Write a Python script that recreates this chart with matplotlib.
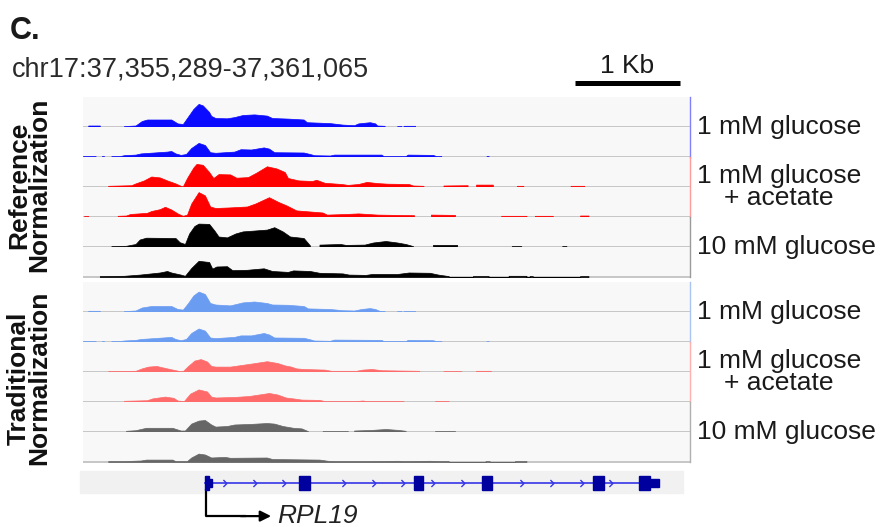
import numpy as np
import matplotlib.pyplot as plt
from matplotlib.path import Path
from matplotlib.patches import Rectangle

plt.rcParams['font.family'] = ['Liberation Sans', 'DejaVu Sans']

W, H = 881, 527
region = 'chr17:37,355,289-37,361,065'
region_kb = 5.776

# coverage profiles: (kb from region start, fraction of track height)
ref_1mm_a = [(0.05,0),(0.05,0.05),(0.16,0.05),(0.16,0),(0.39,0),(0.39,0.03),(0.50,0.05),(0.56,0.2),(0.61,0.25),
             (0.84,0.25),(0.90,0.12),(0.95,0.1),(1.0,0.35),(1.05,0.6),(1.10,0.77),(1.14,0.72),(1.20,0.5),(1.22,0.37),
             (1.26,0.3),(1.37,0.29),(1.44,0.33),(1.52,0.4),(1.63,0.42),(1.75,0.38),(1.80,0.3),(1.95,0.28),(2.10,0.25),
             (2.13,0.16),(2.35,0.13),(2.47,0.08),(2.58,0.06),(2.62,0.12),(2.73,0.16),(2.78,0.12),(2.80,0.05),(2.87,0.04),
             (2.87,0),(2.99,0),(2.99,0.03),(3.03,0.03),(3.03,0),(3.05,0),(3.05,0.04),(3.16,0.04),(3.16,0)]
ref_1mm_b = [(0.0,0),(0.0,0.03),(0.12,0.03),(0.12,0),(0.18,0),(0.18,0.03),(0.20,0.03),(0.20,0),(0.27,0),(0.27,0.03),
             (0.35,0.03),(0.39,0.06),(0.50,0.08),(0.55,0.12),(0.80,0.18),(0.84,0.2),(0.88,0.12),(0.93,0.07),(0.98,0.1),
             (1.03,0.3),(1.10,0.47),(1.16,0.4),(1.21,0.16),(1.26,0.14),(1.44,0.18),(1.50,0.26),(1.60,0.25),(1.72,0.32),
             (1.77,0.28),(1.82,0.16),(2.10,0.15),(2.16,0.1),(2.20,0.06),(2.35,0.05),(2.39,0.08),(2.84,0.08),(2.86,0.03),
             (3.07,0.03),(3.09,0.08),(3.33,0.07),(3.36,0.03),(3.41,0.03),(3.41,0),(3.84,0),(3.84,0.03),(3.86,0.03),(3.86,0)]
ref_ace_a = [(0.24,0),(0.24,0.04),(0.46,0.06),(0.50,0.12),(0.58,0.22),(0.65,0.35),(0.73,0.32),(0.80,0.22),(0.88,0.12),
             (0.93,0.04),(0.95,0.02),(0.99,0.3),(1.05,0.65),(1.08,0.77),(1.14,0.74),(1.20,0.5),(1.24,0.3),(1.29,0.43),
             (1.40,0.42),(1.46,0.31),(1.57,0.33),(1.65,0.48),(1.75,0.69),(1.84,0.62),(1.92,0.5),(1.95,0.3),(2.05,0.22),
             (2.18,0.2),(2.22,0.24),(2.30,0.14),(2.46,0.1),(2.52,0.07),(2.62,0.1),(2.70,0.17),(2.80,0.13),(2.90,0.11),
             (3.10,0.1),(3.14,0.05),(3.24,0.04),(3.24,0),(3.43,0),(3.43,0.05),(3.66,0.06),(3.66,0),(3.74,0),(3.74,0.08),
             (3.90,0.08),(3.90,0),(4.13,0),(4.13,0.04),(4.19,0.04),(4.19,0),(4.64,0),(4.64,0.04),(4.77,0.04),(4.77,0)]
ref_ace_b = [(0.01,0),(0.01,0.03),(0.05,0.03),(0.05,0),(0.33,0),(0.33,0.04),(0.41,0.05),(0.45,0.1),(0.61,0.14),
             (0.65,0.2),(0.73,0.26),(0.78,0.34),(0.84,0.25),(0.90,0.12),(0.95,0.04),(0.99,0.08),(1.03,0.45),(1.10,0.83),
             (1.16,0.72),(1.21,0.35),(1.26,0.3),(1.40,0.32),(1.56,0.35),(1.64,0.45),(1.77,0.66),(1.86,0.5),(1.94,0.38),
             (2.03,0.22),(2.28,0.15),(2.32,0.08),(2.50,0.1),(2.62,0.12),(2.80,0.08),(3.15,0.06),(3.15,0),(3.31,0),
             (3.31,0.08),(3.54,0.07),(3.54,0),(3.98,0),(3.98,0.04),(4.22,0.04),(4.22,0),(4.30,0),(4.30,0.04),(4.47,0.04),
             (4.47,0),(4.73,0),(4.73,0.05),(4.81,0.05),(4.81,0)]
ref_10mm_a = [(0.27,0),(0.27,0.03),(0.41,0.04),(0.50,0.1),(0.54,0.25),(0.60,0.31),(0.88,0.3),(0.92,0.16),(0.97,0.1),
              (1.01,0.45),(1.06,0.7),(1.10,0.78),(1.20,0.77),(1.25,0.55),(1.29,0.35),(1.37,0.32),(1.45,0.45),(1.52,0.52),
              (1.75,0.58),(1.82,0.66),(1.90,0.52),(1.97,0.35),(2.10,0.3),(2.16,0.05),(2.16,0),(2.25,0),(2.25,0.08),
              (2.45,0.1),(2.50,0.07),(2.68,0.08),(2.76,0.15),(2.88,0.2),(2.99,0.15),(3.07,0.1),(3.14,0.03),(3.14,0),
              (3.33,0),(3.33,0.07),(3.56,0.07),(3.56,0),(4.08,0),(4.08,0.03),(4.17,0.03),(4.17,0),(4.56,0),(4.56,0.03),
              (4.60,0.03),(4.60,0)]
ref_10mm_b = [(0.16,0),(0.16,0.03),(0.39,0.04),(0.54,0.08),(0.73,0.15),(0.80,0.2),(0.84,0.15),(0.93,0.08),(0.97,0.04),
              (1.03,0.3),(1.10,0.54),(1.20,0.5),(1.23,0.28),(1.27,0.35),(1.37,0.36),(1.42,0.23),(1.56,0.24),(1.72,0.29),
              (1.80,0.2),(1.95,0.17),(2.00,0.22),(2.16,0.2),(2.25,0.14),(2.47,0.12),(2.53,0.08),(2.69,0.07),(2.75,0.1),
              (2.99,0.1),(3.10,0.15),(3.30,0.14),(3.38,0.08),(3.48,0.03),(3.48,0),(3.71,0),(3.71,0.03),(3.86,0.03),
              (3.86,0),(4.05,0),(4.05,0.04),(4.22,0.04),(4.22,0),(4.25,0),(4.25,0.03),(4.28,0.03),(4.28,0),(4.73,0),
              (4.73,0.03),(4.81,0.03),(4.81,0)]
trad_1mm_a = [(0.05,0),(0.05,0.04),(0.16,0.04),(0.16,0),(0.39,0),(0.39,0.03),(0.50,0.05),(0.56,0.15),(0.65,0.2),
              (0.84,0.2),(0.90,0.1),(0.95,0.08),(1.00,0.3),(1.05,0.55),(1.10,0.68),(1.16,0.6),(1.21,0.3),(1.26,0.25),
              (1.40,0.22),(1.52,0.32),(1.63,0.35),(1.75,0.3),(1.80,0.25),(1.95,0.24),(2.10,0.2),(2.14,0.12),(2.35,0.1),
              (2.47,0.06),(2.58,0.05),(2.65,0.1),(2.73,0.13),(2.78,0.1),(2.82,0.04),(2.87,0.03),(2.87,0),(2.99,0),
              (2.99,0.03),(3.03,0.03),(3.03,0),(3.05,0),(3.05,0.03),(3.16,0.03),(3.16,0)]
trad_1mm_b = [(0.0,0),(0.0,0.03),(0.12,0.03),(0.12,0),(0.18,0),(0.18,0.03),(0.20,0.03),(0.20,0),(0.27,0),(0.27,0.03),
              (0.35,0.03),(0.39,0.05),(0.50,0.07),(0.55,0.1),(0.80,0.16),(0.84,0.17),(0.88,0.1),(0.93,0.06),(0.98,0.1),
              (1.03,0.3),(1.10,0.45),(1.16,0.38),(1.21,0.15),(1.26,0.13),(1.44,0.17),(1.50,0.22),(1.60,0.22),(1.72,0.3),
              (1.77,0.25),(1.82,0.15),(2.10,0.14),(2.16,0.09),(2.20,0.05),(2.35,0.04),(2.39,0.08),(2.84,0.07),(2.86,0.03),
              (3.07,0.03),(3.09,0.07),(3.33,0.06),(3.36,0.03),(3.41,0.03),(3.41,0),(3.84,0),(3.84,0.03),(3.86,0.03),(3.86,0)]
trad_ace_a = [(0.24,0),(0.24,0.03),(0.50,0.04),(0.56,0.12),(0.62,0.18),(0.70,0.2),(0.80,0.12),(0.88,0.06),(0.92,0.03),
              (0.95,0.03),(1.00,0.2),(1.06,0.38),(1.12,0.43),(1.18,0.35),(1.22,0.2),(1.26,0.18),(1.40,0.18),(1.52,0.24),
              (1.62,0.29),(1.75,0.36),(1.85,0.3),(1.92,0.22),(1.98,0.18),(2.03,0.12),(2.10,0.1),(2.30,0.08),(2.36,0.04),
              (2.60,0.04),(2.66,0.08),(2.75,0.1),(2.84,0.06),(3.00,0.05),(3.20,0.04),(3.20,0),(3.43,0),(3.43,0.03),
              (3.60,0.03),(3.60,0),(3.74,0),(3.74,0.04),(3.88,0.04),(3.88,0)]
trad_ace_b = [(0.39,0),(0.39,0.04),(0.61,0.06),(0.66,0.12),(0.78,0.18),(0.86,0.14),(0.90,0.05),(0.96,0.03),(1.02,0.28),
              (1.10,0.42),(1.18,0.35),(1.22,0.18),(1.26,0.15),(1.45,0.17),(1.58,0.2),(1.77,0.3),(1.85,0.25),(1.93,0.15),
              (2.00,0.12),(2.08,0.08),(2.25,0.07),(2.30,0.03),(2.35,0.03),(2.60,0.03),(2.66,0.05),(2.70,0.03),(3.05,0.03),
              (3.05,0),(3.35,0),(3.35,0.03),(3.48,0.03),(3.48,0)]
trad_10mm_a = [(0.41,0),(0.41,0.04),(0.50,0.06),(0.60,0.14),(0.85,0.14),(0.93,0.05),(0.97,0.05),(1.03,0.28),(1.10,0.38),
               (1.16,0.4),(1.22,0.25),(1.26,0.18),(1.37,0.2),(1.44,0.25),(1.60,0.27),(1.75,0.3),(1.82,0.28),(1.90,0.2),
               (2.00,0.14),(2.08,0.12),(2.14,0.03),(2.14,0),(2.28,0),(2.28,0.03),(2.52,0.03),(2.52,0),(2.58,0),
               (2.58,0.05),(2.75,0.07),(2.88,0.1),(3.00,0.07),(3.07,0.04),(3.07,0),(3.35,0),(3.35,0.03),(3.54,0.03),(3.54,0)]
trad_10mm_b = [(0.24,0),(0.24,0.03),(0.39,0.03),(0.55,0.05),(0.60,0.08),(0.85,0.08),(0.88,0.03),(0.99,0.03),(1.03,0.15),
               (1.10,0.28),(1.16,0.25),(1.22,0.15),(1.35,0.17),(1.40,0.14),(1.75,0.15),(1.80,0.1),(2.25,0.08),(2.33,0.04),
               (2.40,0.03),(2.70,0.03),(3.00,0.04),(3.05,0.03),(3.30,0.04),(3.40,0.03),(3.48,0.03),(3.48,0),(3.83,0),
               (3.83,0.03),(3.87,0.03),(3.87,0),(4.11,0),(4.11,0.03),(4.22,0.03),(4.22,0)]

conditions = ['1 mM glucose', '1 mM glucose\n+ acetate', '10 mM glucose']
groups = ['Reference\nNormalization', 'Traditional\nNormalization']
group_tracks = [[ref_1mm_a, ref_1mm_b, ref_ace_a, ref_ace_b, ref_10mm_a, ref_10mm_b],
                [trad_1mm_a, trad_1mm_b, trad_ace_a, trad_ace_b, trad_10mm_a, trad_10mm_b]]
group_colors = [['#0B0BFF', '#FF0000', '#000000'], ['#6A9CF2', '#FF6B6B', '#666666']]
edge_colors = [['#8080FF', '#FF9A9A', '#9A9A9A'], ['#A9C3F5', '#FFB0B0', '#B0B0B0']]

# RPL19 gene model
gene_name = 'RPL19'
exons = [(1.16, 1.20), (2.06, 2.16), (3.145, 3.24), (3.80, 3.895), (4.855, 4.96), (5.29, 5.40)]
utrs = [(1.20, 1.23), (5.40, 5.48)]
tss_kb = 1.17

fig = plt.figure(figsize=(W / 100, H / 100), dpi=100)


def px_axes(x0, y0, x1, y1):
    return fig.add_axes([x0 / W, 1 - y1 / H, (x1 - x0) / W, (y1 - y0) / H])


X0, X1 = 83, 690
TH = 30
group_base = [127, 312]
group_label_y = [185, 378]

for g in range(2):
    for i, prof in enumerate(group_tracks[g]):
        base = group_base[g] + i * TH
        ax = px_axes(X0, base - TH, X1, base + 1)
        ax.set_facecolor('#F8F8F8')
        ax.set_xlim(0, region_kb)
        ax.set_ylim(-1 / TH, 1)
        ax.set_xticks([])
        ax.set_yticks([])
        for s in ax.spines.values():
            s.set_visible(False)
        ax.axhline(0, color='#C2C2C2', lw=1.3, zorder=1)
        xs, ys = zip(*prof)
        col = group_colors[g][i // 2]
        ax.fill_between(xs, 0, ys, color=col, lw=0.5, ec=col, zorder=3)

# gene track
gax = px_axes(X0, 471, X1, 493)
gax.set_xlim(0, region_kb)
gax.set_ylim(0, 1)
gax.axis('off')
gax.add_patch(Rectangle((-0.03, 0), 5.74, 1, color='#F1F1F1', zorder=0, clip_on=False))
gstart, gend = exons[0][0], utrs[-1][1]
gax.plot([gstart, gend], [0.45, 0.45], color='#3535E8', lw=1.2, zorder=2)
chev = np.arange(1.35, gend, 0.283)
chev = [c for c in chev if all(c < s - 0.05 or c > e + 0.05 for s, e in exons + utrs)]
chev_marker = Path([(-0.6, 1), (0.4, 0), (-0.6, -1)], [Path.MOVETO, Path.LINETO, Path.LINETO])
gax.plot(chev, [0.45] * len(chev), ls='none', marker=chev_marker, ms=5, mfc='none',
         mec='#3535E8', mew=1.0, zorder=3)
for s, e in exons:
    gax.add_patch(Rectangle((s, 0.14), e - s, 0.63, color='#00009E', zorder=4))
for s, e in utrs:
    gax.add_patch(Rectangle((s, 0.27), e - s, 0.37, color='#00009E', zorder=4))
gax.plot([tss_kb, tss_kb, 1.55], [0.2, -1.05, -1.05], color='black', lw=1.6,
         clip_on=False, solid_capstyle='butt')
gax.annotate('', xy=(1.79, -1.05), xytext=(1.5, -1.05), xycoords='data',
             arrowprops=dict(arrowstyle='-|>', color='black', lw=1.6, mutation_scale=16,
                             shrinkA=0, shrinkB=0), annotation_clip=False)
gax.text(1.85, -1.05, gene_name, style='italic', fontsize=19, va='center', ha='left',
         color='#222222', clip_on=False)

# overlay for labels and decorations
ov = fig.add_axes([0, 0, 1, 1])
ov.set_xlim(0, W)
ov.set_ylim(H, 0)
ov.axis('off')

for g in range(2):
    for k in range(3):
        top = group_base[g] + 2 * k * TH - TH
        ov.plot([X1, X1], [top, top + 2 * TH], color=edge_colors[g][k], lw=1.0)
        ov.text(697, top + TH, conditions[k], fontsize=19, ha='left', va='center',
                multialignment='center', linespacing=0.88, color='#1A1A1A')
    ov.text(29, group_label_y[g], groups[g], rotation=90, fontsize=19,
            fontweight='bold', ha='center', va='center', multialignment='center',
            linespacing=0.8, color='#111111')

ov.text(10, 31, 'C.', fontsize=22, fontweight='bold', ha='left', va='center', color='#1A1A1A')
ov.text(12, 70, region, fontsize=19.5, ha='left', va='center', color='#2A2A2A')
kb_px = (X1 - X0) / region_kb
ov.plot([680 - kb_px, 680], [83, 83], color='black', lw=3.6, solid_capstyle='butt')
ov.text(680 - kb_px / 2, 66, '1 Kb', fontsize=19, ha='center', va='center', color='#1A1A1A')

fig.savefig('out.png', dpi=100)
